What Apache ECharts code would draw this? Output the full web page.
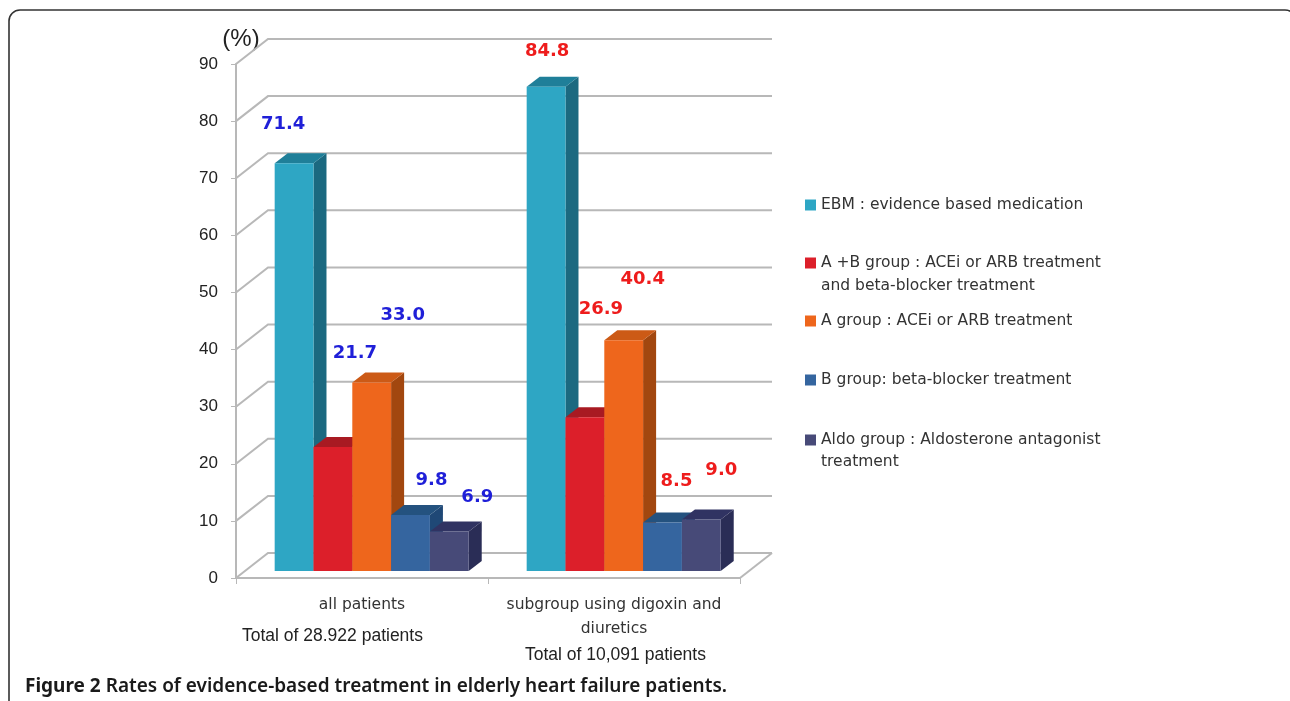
<!DOCTYPE html>
<html><head><meta charset="utf-8">
<style>html,body{margin:0;padding:0;background:#fff}#c{width:1290px;height:701px}</style>
<script src="https://cdn.jsdelivr.net/npm/echarts@6/dist/echarts.min.js"></script>
</head><body><div id="c"></div>
<script>
const categories = ['all patients', 'subgroup using digoxin and\ndiuretics'];
const groupTotals = ['Total of 28.922 patients', 'Total of 10,091 patients'];
const yTicks = [0, 10, 20, 30, 40, 50, 60, 70, 80, 90];
const seriesNames = [
  'EBM : evidence based medication',
  'A +B group : ACEi or ARB treatment\nand beta-blocker treatment',
  'A group : ACEi or ARB treatment',
  'B group: beta-blocker treatment',
  'Aldo group : Aldosterone antagonist\ntreatment'
];
const ebm = [71.4, 84.8];
const aPlusB = [21.7, 26.9];
const aGroup = [33.0, 40.4];
const bGroup = [9.8, 8.5];
const aldo = [6.9, 9.0];
const caption = ['Figure 2', ' Rates of evidence-based treatment in elderly heart failure patients.'];

const allValues = [ebm, aPlusB, aGroup, bGroup, aldo];
const faces = [
  ['#2ea6c4', '#1f7f99', '#1b6980'],
  ['#dc1f2a', '#a81a22', '#8e1a20'],
  ['#ee661c', '#cc5a16', '#a2470f'],
  ['#35659f', '#24527f', '#1f4876'],
  ['#474a78', '#303362', '#2a2d56']
];
const labelShift = [
  [[-11, -39], [1, -35]],
  [[22, -94], [16, -108]],
  [[31, -67], [19, -61]],
  [[21, -35], [14, -41]],
  [[28, -34], [20, -49]]
];
const labelColors = ['#1f1fd8', '#ee1c1c'];
const FONT = '"DejaVu Sans"';
const D = {wx: 32, wy: 25, bx: 13, by: 10, baseX: 9.7, baseY: 7, ratio: 0.154};

function wallItem(params, api) {
  const p = api.coord([0, api.value(0)]);
  const band = api.size([1, 0])[0];
  const x0 = p[0] - band / 2, y = p[1];
  const x1 = x0 + band * categories.length;
  const shape = {points: [[x0, y], [x0 + D.wx, y - D.wy], [x1 + D.wx, y - D.wy]]};
  const children = [{type: 'polyline', shape, style: {stroke: '#b8b8b8', lineWidth: 2, fill: null}}];
  if (api.value(0) === 0) {
    children.push({type: 'line', shape: {x1: x1, y1: y, x2: x1 + D.wx, y2: y - D.wy},
      style: {stroke: '#b8b8b8', lineWidth: 2}});
  }
  return {type: 'group', children};
}
function barItem(sIdx) {
  return function (params, api) {
    const cat = api.value(0), v = api.value(1);
    const top = api.coord([cat, v]);
    const bottom = api.coord([cat, 0]);
    const w = api.size([1, 0])[0] * D.ratio;
    const xl = top[0] + D.baseX + (sIdx - 2.5) * w;
    const xr = xl + w;
    const yt = top[1] - D.baseY, yb = bottom[1] - D.baseY;
    const c = faces[sIdx];
    const s = labelShift[sIdx][cat];
    return {type: 'group', children: [
      {type: 'polygon', shape: {points: [[xr, yt], [xr + D.bx, yt - D.by], [xr + D.bx, yb - D.by], [xr, yb]]}, style: {fill: c[2]}},
      {type: 'polygon', shape: {points: [[xl, yt], [xl + D.bx, yt - D.by], [xr + D.bx, yt - D.by], [xr, yt]]}, style: {fill: c[1]}},
      {type: 'rect', shape: {x: xl, y: yt, width: w, height: yb - yt}, style: {fill: c[0]}},
      {type: 'text', z2: 50, style: {
        text: v.toFixed(1), x: xl + w / 2 + s[0], y: yt + s[1],
        align: 'center', verticalAlign: 'middle',
        fill: labelColors[cat], font: '600 18px ' + FONT
      }}
    ]};
  };
}

const series = [{
  type: 'custom', name: 'wall', silent: true, clip: false, z: 1,
  data: yTicks.map(t => [t]), encode: {y: 0}, renderItem: wallItem
}].concat(allValues.map((vals, i) => ({
  type: 'custom', name: seriesNames[i], clip: false, z: 2 + i,
  itemStyle: {color: faces[i][0]},
  data: vals.map((v, c) => [c, v]), encode: {x: 0, y: 1}, renderItem: barItem(i)
})));

const legendTops = [197, 255, 313, 372, 432];
const legends = seriesNames.map((n, i) => ({
  data: [n], left: 805, top: legendTops[i], orient: 'vertical',
  icon: 'rect', itemWidth: 11, itemHeight: 11, itemGap: 0, padding: 0,
  selectedMode: false,
  formatter: s => s.split('\n')[0],
  textStyle: {fontFamily: FONT, fontSize: 15.5, color: '#333', padding: [-3, 0, 0, 0]}
}));

const chart = echarts.init(document.getElementById('c'), null, {renderer: 'canvas'});
chart.setOption({
  animation: false,
  backgroundColor: '#fff',
  grid: {left: 236, right: 550, top: 64, bottom: 123},
  legend: legends,
  xAxis: {
    type: 'category', data: categories,
    axisLine: {lineStyle: {color: '#b8b8b8', width: 2}},
    axisTick: {show: true, length: 6, lineStyle: {color: '#b8b8b8', width: 1}},
    axisLabel: {fontFamily: FONT, fontSize: 15.5, color: '#333', margin: 15, lineHeight: 24, interval: 0}
  },
  yAxis: {
    type: 'value', min: 0, max: 90, interval: 10,
    name: '(%)', nameLocation: 'end', nameGap: 13,
    nameTextStyle: {fontFamily: '"Liberation Sans"', fontSize: 24, color: '#222', padding: [0, 0, 0, 10]},
    axisLine: {show: true, lineStyle: {color: '#b8b8b8', width: 2}},
    axisTick: {show: true, length: 5, lineStyle: {color: '#b8b8b8', width: 1}},
    axisLabel: {fontFamily: '"Liberation Sans"', fontSize: 17, color: '#222', margin: 18},
    splitLine: {show: false}
  },
  series,
  graphic: [
    {type: 'rect', silent: true, shape: {x: 9, y: 10, width: 1287, height: 1000, r: 11},
      style: {stroke: '#333', lineWidth: 1.6, fill: 'transparent'}, z: -1},
    {type: 'text', left: 242, top: 627, style: {text: groupTotals[0], font: '17.5px "Liberation Sans"', fill: '#222'}},
    {type: 'text', left: 525, top: 646, style: {text: groupTotals[1], font: '17.5px "Liberation Sans"', fill: '#222'}},
    {type: 'text', left: 821, top: 278, style: {text: seriesNames[1].split('\n')[1], font: '15.5px ' + FONT, fill: '#333'}},
    {type: 'text', left: 821, top: 454, style: {text: seriesNames[4].split('\n')[1], font: '15.5px ' + FONT, fill: '#333'}},
    {type: 'text', left: 25, top: 677, style: {
      text: '{b|' + caption[0] + '}{r|' + caption[1] + '}',
      rich: {
        b: {font: '700 19px "Noto Sans"', fill: '#1a1a1a'},
        r: {font: '600 19px "Noto Sans"', fill: '#1a1a1a'}
      }
    }}
  ]
});
</script></body></html>
